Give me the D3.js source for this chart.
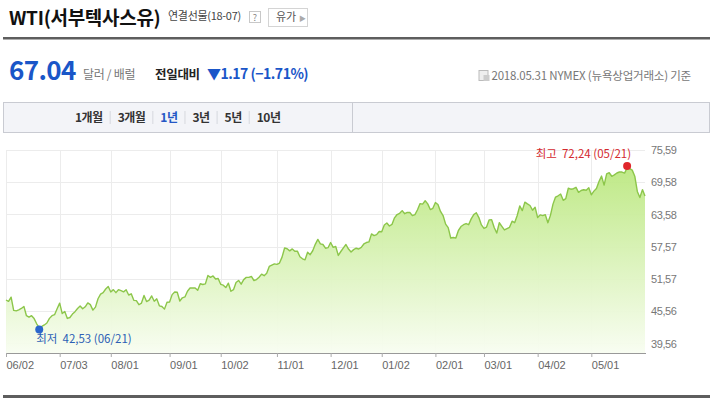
<!DOCTYPE html>
<html><head><meta charset="utf-8">
<script src="https://cdn.jsdelivr.net/npm/d3@7/dist/d3.min.js"></script>
<style>
body{margin:0;background:#fff}
svg{display:block}
text{font-family:"Noto Sans CJK KR","Noto Sans",sans-serif}
.num{font-family:"Liberation Sans",Arial,sans-serif}
</style>
</head><body>
<svg id="c" width="720" height="398"></svg>
<script>
// ---------- data ----------
const titleMain = "WTI(서부텍사스유)";
const titleSub = "연결선물(18-07)";
const lastPrice = "67.04";
const unitLabel = "달러 / 배럴";
const changeLabel = "전일대비";
const changeValue = "▼1.17 (−1.71%)";
const sourceLabel = "2018.05.31 NYMEX (뉴욕상업거래소) 기준";
const periodTabs = ["1개월", "3개월", "1년", "3년", "5년", "10년"];
const activeTab = "1년";

const startDate = "2017-06-02";
const endDate = "2018-05-31";
const holidays = ["2017-07-04","2017-09-04","2017-11-23","2017-12-25","2018-01-01","2018-01-15","2018-02-19","2018-03-30","2018-05-28"];

const jun17 = [47.66,47.40,48.19,45.72,45.64,45.83,46.08,46.46,44.73,44.46,44.74,44.20,43.23,42.53,42.74,43.01,43.38,44.24,44.74,44.93,46.04];
const jul17 = [47.07,45.13,45.52,44.23,44.40,45.04,45.49,46.08,46.54,46.02,46.40,47.12,46.79,45.77,46.34,47.89,48.75,49.04,49.71,50.17];
const aug17 = [49.16,49.59,49.03,49.58,49.39,49.17,49.56,48.59,48.82,47.59,47.55,46.78,47.09,48.51,47.37,47.64,48.41,47.43,47.87,46.57,46.44,45.96,47.23];
const sep17 = [47.29,48.66,49.16,49.09,47.48,48.07,48.23,49.30,49.89,49.89,49.91,49.48,50.69,50.55,50.66,52.22,51.88,52.14,51.56,51.67];
const oct17 = [50.58,50.42,49.98,50.79,49.29,49.58,50.92,51.30,50.60,51.45,51.87,51.88,52.04,51.29,51.47,51.90,52.47,52.18,52.64,53.90,54.15,54.38];
const nov17 = [54.30,54.54,55.64,57.35,57.20,56.81,57.17,56.74,56.76,55.70,55.33,55.14,56.55,56.09,56.83,58.02,58.95,58.11,57.99,57.30,57.40];
const dec17 = [58.36,57.47,57.62,55.96,56.69,57.36,57.99,57.14,56.60,57.04,57.30,57.16,57.46,58.09,58.36,58.47,59.97,59.64,59.84,60.42];
const jan18 = [60.37,61.63,62.01,61.44,61.73,62.96,63.57,63.80,64.30,63.73,63.97,63.95,63.37,63.57,64.47,65.61,65.51,66.14,65.56,64.50,64.73];
const feb18 = [65.80,65.45,64.15,63.39,61.79,61.15,59.20,59.29,59.19,60.60,61.34,61.68,61.90,61.68,62.77,63.55,63.91,63.01,61.64];
const mar18 = [60.99,61.25,62.57,62.60,61.15,60.12,62.04,61.36,60.71,60.96,61.19,62.34,62.06,63.40,65.17,64.30,65.88,65.55,65.25,64.38,64.94];
const apr18 = [63.01,63.51,63.37,63.54,62.06,63.42,65.51,66.82,67.07,67.39,66.22,66.52,68.47,68.29,68.38,68.64,67.70,68.05,68.19,68.10,68.57];
const may18 = [67.25,67.93,68.43,69.72,70.73,69.06,71.14,71.36,70.70,70.96,71.31,71.49,71.49,71.28,72.24,72.13,71.84,70.71,67.88,66.73,68.21,67.04];

const yTickValues = [39.56,45.56,51.57,57.57,63.58,69.58,75.59];
const yTickLabels = ["39,56","45,56","51,57","57,57","63,58","69,58","75,59"];
const highLabel = "최고  72,24 (05/21)";
const lowLabel = "최저  42,53 (06/21)";

// ---------- build series ----------
const closes = [].concat(jun17,jul17,aug17,sep17,oct17,nov17,dec17,jan18,feb18,mar18,apr18,may18);
const fmtKey = d3.utcFormat("%Y-%m-%d");
const dates = d3.utcDay.range(new Date(startDate+"T00:00:00Z"), d3.utcDay.offset(new Date(endDate+"T00:00:00Z"),1))
  .filter(d => d.getUTCDay()!==0 && d.getUTCDay()!==6 && !holidays.includes(fmtKey(d)));
const data = dates.map((d,i)=>({date:fmtKey(d), label:d3.utcFormat("%m/%d")(d), month:d3.utcFormat("%Y-%m")(d), v:closes[i]}));
const monthFirsts = data.filter((d,i)=> i===0 || d.month!==data[i-1].month);

const svg = d3.select("#c");

// ---------- header ----------
svg.append("text").attr("x",9).attr("y",25).attr("font-size",19).attr("font-weight",700)
  .attr("letter-spacing",-0.3).attr("fill","#111").text(titleMain);
svg.append("text").attr("x",168).attr("y",20).attr("font-size",11).attr("letter-spacing",-0.3)
  .attr("fill","#444").text(titleSub);
svg.append("rect").attr("x",249.5).attr("y",11.5).attr("width",11).attr("height",11).attr("fill","#fff").attr("stroke","#c8c8c8");
svg.append("text").attr("x",255).attr("y",20.5).attr("font-size",9).attr("text-anchor","middle").attr("fill","#888").text("?");
svg.append("rect").attr("x",268.5).attr("y",8.5).attr("width",39).attr("height",18).attr("fill","#fff").attr("stroke","#d4d4d4");
svg.append("text").attr("x",276).attr("y",21).attr("font-size",11).attr("fill","#555").text("유가");
svg.append("text").attr("x",299).attr("y",20.5).attr("font-size",7).attr("fill","#aaa").text("▶");
svg.append("rect").attr("x",3).attr("y",37).attr("width",707).attr("height",2.5).attr("fill","#5e5e5e");

svg.append("text").attr("x",9).attr("y",80).attr("font-size",26).attr("font-weight",700)
  .attr("font-family","DejaVu Sans").attr("letter-spacing",-0.6).attr("fill","#1a56c8").text(lastPrice);
svg.append("text").attr("x",83).attr("y",79).attr("font-size",12).attr("fill","#777").attr("letter-spacing",-0.3).text(unitLabel);
svg.append("text").attr("x",155).attr("y",79).attr("font-size",12.5).attr("font-weight",700).attr("letter-spacing",-0.3).attr("fill","#222").text(changeLabel);
svg.append("text").attr("x",207).attr("y",79).attr("font-size",14).attr("font-weight",700).attr("letter-spacing",-0.5).attr("fill","#1a56c8").text(changeValue);

const src = svg.append("text").attr("x",691).attr("y",80).attr("font-size",11.5).attr("letter-spacing",-0.2)
  .attr("text-anchor","end").attr("fill","#777").text(sourceLabel);
const sw = src.node().getComputedTextLength();
const ix = 691 - sw - 13;
svg.append("rect").attr("x",ix+0.5).attr("y",70.5).attr("width",9).attr("height",10).attr("fill","#eee").attr("stroke","#bbb");
svg.append("rect").attr("x",ix+5).attr("y",75).attr("width",6).attr("height",6).attr("fill","#ccc");

// ---------- tabs ----------
svg.append("rect").attr("x",3.5).attr("y",102.5).attr("width",706).attr("height",30).attr("fill","#f3f4f8").attr("stroke","#c9cbd2");
svg.append("line").attr("x1",352.5).attr("x2",352.5).attr("y1",103).attr("y2",132).attr("stroke","#c9cbd2");
let cx = 75;
periodTabs.forEach((t,i)=>{
  const tn = svg.append("text").attr("x",cx).attr("y",122).attr("font-size",12).attr("font-weight",700)
    .attr("letter-spacing",-0.5).attr("fill", t===activeTab ? "#2457c5" : "#333").text(t);
  const w = tn.node().getComputedTextLength();
  if (i < periodTabs.length-1) {
    svg.append("line").attr("x1",cx+w+7.5).attr("x2",cx+w+7.5).attr("y1",111).attr("y2",124).attr("stroke","#d6d8de");
  }
  cx += w + 15;
});

// ---------- chart ----------
const x = d3.scalePoint().domain(data.map(d=>d.date)).range([6,645]);
const y = d3.scaleLinear().domain([37.79,75.59]).range([353,150]);

const defs = svg.append("defs");
const grad = defs.append("linearGradient").attr("id","g").attr("gradientUnits","userSpaceOnUse")
  .attr("x1",0).attr("x2",0).attr("y1",150).attr("y2",353);
grad.append("stop").attr("offset","0%").attr("stop-color","#b6e676");
grad.append("stop").attr("offset","100%").attr("stop-color","#f8fdf1");

// grid
svg.append("g").selectAll("line").data(yTickValues).join("line")
  .attr("x1",6).attr("x2",645).attr("y1",d=>Math.round(y(d))+0.5).attr("y2",d=>Math.round(y(d))+0.5)
  .attr("stroke","#ececec");
svg.append("g").selectAll("line").data(monthFirsts).join("line")
  .attr("x1",d=>Math.round(x(d.date))+0.5).attr("x2",d=>Math.round(x(d.date))+0.5)
  .attr("y1",150).attr("y2",353).attr("stroke","#ececec");

svg.append("path").datum(data).attr("fill","url(#g)").attr("opacity",0.95)
  .attr("d", d3.area().x(d=>x(d.date)).y0(353).y1(d=>y(d.v)));
svg.append("path").datum(data).attr("fill","none").attr("stroke","#8cc64a").attr("stroke-width",1.4)
  .attr("stroke-linejoin","round")
  .attr("d", d3.line().x(d=>x(d.date)).y(d=>y(d.v)));

// x axis
const xAxis = svg.append("g").attr("transform","translate(0,353)")
  .call(d3.axisBottom(x).tickValues(monthFirsts.map(d=>d.date)).tickSize(4).tickSizeOuter(0)
    .tickFormat(k => data.find(d=>d.date===k).label));
xAxis.select(".domain").attr("stroke","#999").attr("d","M6,0.5H646");
xAxis.selectAll(".tick line").attr("stroke","#aaa");
xAxis.selectAll(".tick text").attr("text-anchor","start").attr("x",0).attr("dy","0").attr("y",16)
  .attr("class","num").attr("font-size",11).attr("fill","#666");

// y axis labels
const yAxis = svg.append("g").attr("transform","translate(645,0)")
  .call(d3.axisRight(y).tickValues(yTickValues).tickSize(0)
    .tickFormat((d,i)=>yTickLabels[i]));
yAxis.select(".domain").remove();
yAxis.selectAll(".tick text").attr("x",6).attr("class","num").attr("font-size",11)
  .attr("letter-spacing",-0.4).attr("fill","#777");

// high / low markers
const hi = data.reduce((a,b)=> b.v>a.v ? b : a);
const lo = data.reduce((a,b)=> b.v<a.v ? b : a);
svg.append("circle").attr("cx",x(hi.date)).attr("cy",y(hi.v)-2).attr("r",4).attr("fill","#e0262b");
svg.append("text").attr("x",x(hi.date)+4).attr("y",y(hi.v)-10).attr("text-anchor","end")
  .attr("font-size",11.5).attr("xml:space","preserve").attr("fill","#d42a2f").text(highLabel);
svg.append("circle").attr("cx",x(lo.date)).attr("cy",y(lo.v)+2).attr("r",4).attr("fill","#2b66cc");
svg.append("text").attr("x",x(lo.date)-3).attr("y",y(lo.v)+15).attr("font-size",11.5)
  .attr("xml:space","preserve").attr("fill","#2d5fb5").text(lowLabel);

// bottom rule
svg.append("rect").attr("x",3).attr("y",395).attr("width",707).attr("height",3).attr("fill","#5e5e5e");
</script>
</body></html>
